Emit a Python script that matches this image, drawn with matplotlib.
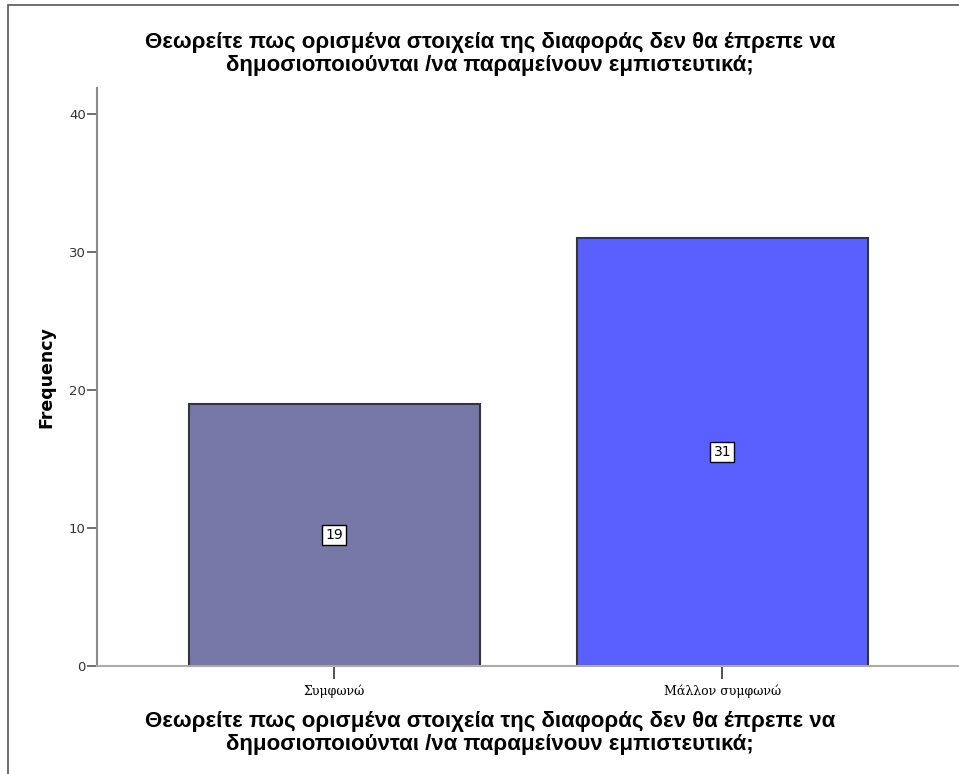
#!/usr/bin/env python3
"""
Ραβδόγραμμα συχνοτήτων (SPSS style)
"""

import matplotlib
matplotlib.use('Agg')
import matplotlib.pyplot as plt
from matplotlib.patches import Rectangle

# δεδομένα
categories = ['Συμφωνώ', 'Μάλλον συμφωνώ']
counts = [19, 31]
bar_colors = ['#7878a8', '#5a5fff']
y_ticks = [0, 10, 20, 30, 40]
title = 'Θεωρείτε πως ορισμένα στοιχεία της διαφοράς δεν θα έπρεπε να\nδημοσιοποιούνται /να παραμείνουν εμπιστευτικά;'

W, H = 959, 774
fig = plt.figure(figsize=(W / 100, H / 100), dpi=100)

# περίγραμμα
fig.patches.append(Rectangle((8 / W, -0.01), 1.0, 1 - 5 / H + 0.01, transform=fig.transFigure,
                             fill=False, edgecolor='#555555', linewidth=1.2))

left, right, top, bottom = 97, 959, 88, 666
ax = fig.add_axes([left / W, 1 - bottom / H, (right - left) / W, (bottom - top) / H])

x = range(len(categories))
bars = ax.bar(x, counts, width=0.75, color=bar_colors, edgecolor='#333344', linewidth=1.5, zorder=2)

ax.set_xlim(-0.612, 1.61)
ax.set_ylim(0, 41.9)

for i, v in enumerate(counts):
    ax.text(i, v / 2, str(v), ha='center', va='center', fontsize=10, family='DejaVu Sans',
            bbox=dict(boxstyle='square,pad=0.22', facecolor='white', edgecolor='black', linewidth=1.0),
            zorder=3)

ax.set_yticks(y_ticks)
ax.set_yticklabels([str(t) for t in y_ticks], fontsize=9.5, color='#333333', family='DejaVu Sans')
ax.tick_params(axis='y', length=7, width=1.2, color='#555555', pad=1)
ax.set_xticks(list(x))
ax.set_xticklabels(categories, fontsize=9, family='DejaVu Serif')
ax.tick_params(axis='x', length=9, width=1.2, color='#333333', pad=4)

ax.spines['top'].set_visible(False)
ax.spines['right'].set_visible(False)
ax.spines['left'].set_color('#888888')
ax.spines['left'].set_linewidth(1.5)
ax.spines['bottom'].set_color('#aaaaaa')
ax.spines['bottom'].set_linewidth(1.5)

ax.set_ylabel('Frequency', fontsize=12.5, fontweight='bold', family='DejaVu Sans', labelpad=10)

title_fonts = ['Liberation Sans Narrow', 'Liberation Sans', 'DejaVu Sans']
fig.text(490 / W, 1 - 54 / H, title, ha='center', va='center', fontsize=16, fontweight='bold',
         family=title_fonts, linespacing=1.1)
fig.text(490 / W, 1 - 733 / H, title, ha='center', va='center', fontsize=16, fontweight='bold',
         family=title_fonts, linespacing=1.1)

plt.savefig('out.png', dpi=100)
